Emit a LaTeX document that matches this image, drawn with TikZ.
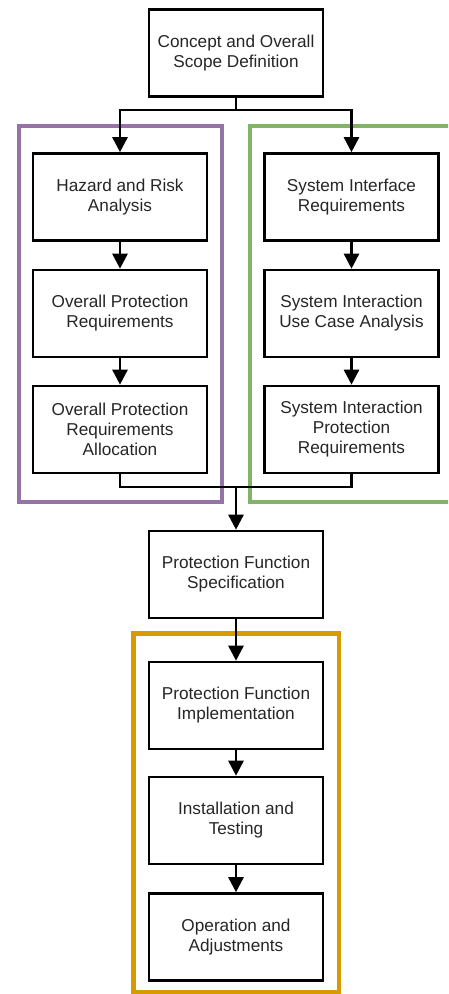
\documentclass[tikz,border=0pt]{standalone}
\usepackage{fontspec}
\setmainfont{Liberation Sans}
\usetikzlibrary{arrows.meta}
\definecolor{grpurple}{HTML}{9673A6}
\definecolor{grgreen}{HTML}{82B366}
\definecolor{grorange}{HTML}{D79B00}
\tikzset{
  stepbox/.style={draw=black, line width=2.6pt, fill=white, minimum width=174pt, minimum height=87pt,
    align=center, inner sep=0pt, font=\fontsize{17.2pt}{20pt}\selectfont, text=black!85},
  flow/.style={draw=black, line width=2.6pt, -{Triangle[width=15pt,length=15pt]}},
  plain/.style={draw=black, line width=2.6pt},
  frame/.style={line width=4.5pt}
}
\begin{document}
\begin{tikzpicture}[x=1pt,y=-1pt]
\useasboundingbox (0,0) rectangle (448,994);
\clip (0,0) rectangle (448,994);
% group frames
\draw[frame, draw=grpurple] (19,126) rectangle (222,502);
\draw[frame, draw=grgreen] (250,126) rectangle (470,502);
\draw[frame, draw=grorange] (133.5,633.5) rectangle (339,992);
% nodes
\node[stepbox] (c)  at (236,53)  {Concept and Overall\\Scope Definition};
\node[stepbox] (l1) at (120,197) {Hazard and Risk\\Analysis};
\node[stepbox] (l2) at (120,313.5) {Overall Protection\\Requirements};
\node[stepbox] (l3) at (120,429.5) {Overall Protection\\Requirements\\Allocation};
\node[stepbox] (r1) at (351.5,197) {System Interface\\Requirements};
\node[stepbox] (r2) at (351.5,313.5) {System Interaction\\Use Case Analysis};
\node[stepbox] (r3) at (351.5,429.5) {System Interaction\\Protection\\Requirements};
\node[stepbox] (s)  at (236,574.5) {Protection Function\\Specification};
\node[stepbox] (i)  at (236,705.5) {Protection Function\\Implementation};
\node[stepbox] (t)  at (236,820.5) {Installation and\\Testing};
\node[stepbox] (o)  at (236,937)   {Operation and\\Adjustments};
% junctions
\coordinate (split) at (236,110);
\coordinate (join) at (236,487);
% connectors
\draw[plain] (c.south) -- (split);
\draw[flow] (split) -| (l1.north);
\draw[flow] (split) -| (r1.north);
\draw[flow] (l1) -- (l2);
\draw[flow] (l2) -- (l3);
\draw[flow] (r1) -- (r2);
\draw[flow] (r2) -- (r3);
\draw[plain] (l3.south) |- (join);
\draw[plain] (r3.south) |- (join);
\draw[flow] (join) -- (s.north);
\draw[flow] (s) -- (i);
\draw[flow] (i) -- (t);
\draw[flow] (t) -- (o);
\end{tikzpicture}
\end{document}
